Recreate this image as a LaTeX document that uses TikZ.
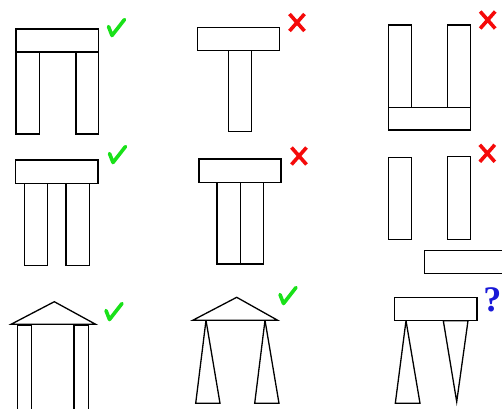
\documentclass[tikz,border=0pt]{standalone}
\usepackage{fontspec}
\setmainfont{Liberation Serif}
\usepackage{tikz}
\usetikzlibrary{calc}

\definecolor{okgreen}{RGB}{25,225,25}
\definecolor{nored}{RGB}{245,10,10}
\definecolor{askblue}{RGB}{25,25,215}

\begin{document}
\begin{tikzpicture}[
    x=1pt, y=-1pt,
    block/.style={draw, line width=1.3pt, fill=white},
    roof/.style={draw, line width=1.3pt, fill=white, line join=miter},
    okmark/.pic={\draw[okgreen, line width=3.6pt, line cap=round, line join=round]
        (-8,-1) -- (-4.5,8) -- (8,-8);},
    nomark/.pic={\draw[nored, line width=3.6pt]
        (-7.5,-8.5) -- (7.5,8.5) (7.5,-8.5) -- (-7.5,8.5);}
]
\useasboundingbox (0,0) rectangle (502,408);

% ========== fila 1 ==========
% arco
\draw[block] (16,52) rectangle (39.3,134);
\draw[block] (76,52) rectangle (98.7,134);
\draw[block] (16,29) rectangle (98.7,52);
\pic at (116.5,27.5) {okmark};

% T
\draw[block] (228.7,50.3) rectangle (251.7,131.7);
\draw[block] (197.3,27.3) rectangle (279.7,50.3);
\pic at (297,22.5) {nomark};

% U
\draw[block] (388.7,25) rectangle (411.3,107.3);
\draw[block] (447.3,25) rectangle (470.3,107.3);
\draw[block] (388.7,107.3) rectangle (470.3,130);
\pic at (487.7,20) {nomark};

% ========== fila 2 ==========
% arco con patas juntas
\draw[block] (24.7,183.3) rectangle (47.7,265.3);
\draw[block] (66,183.3) rectangle (89.3,265.3);
\draw[block] (15.7,160) rectangle (98,183.3);
\pic at (117.5,154.5) {okmark};

% patas pegadas
\draw[block] (217,182.3) rectangle (240.3,264);
\draw[block] (240.3,182.3) rectangle (263.7,264);
\draw[block] (199,159) rectangle (281,182.3);
\pic at (299,156) {nomark};

% piezas sueltas
\draw[block] (388.7,157.3) rectangle (411.7,239.3);
\draw[block] (447.3,156.7) rectangle (470.7,239.3);
\draw[block] (424.3,250.7) rectangle (512,273.7);
\pic at (487.3,153.3) {nomark};

% ========== fila 3 ==========
% techo triangular
\draw[block] (17.3,325) rectangle (31.7,414);
\draw[block] (74,325) rectangle (88.3,414);
\draw[roof] (11,324.3) -- (54.3,301.7) -- (95.7,324.3) -- cycle;
\pic at (114,311.5) {okmark};

% patas triangulares
\draw[roof] (206,320.3) -- (195.7,403.3) -- (220,403.3) -- cycle;
\draw[roof] (265,320.3) -- (254.7,403.3) -- (279,403.3) -- cycle;
\draw[roof] (192.7,320.3) -- (236.7,297.3) -- (277.7,320.3) -- cycle;
\pic at (288,295.5) {okmark};

% pregunta
\draw[roof] (406,320.7) -- (395.3,403.3) -- (420,403.3) -- cycle;
\draw[roof] (443.3,320.7) -- (456.7,401.7) -- (468,320.7) -- cycle;
\draw[block] (394.3,297.3) rectangle (477,320.7);
\node[askblue, font=\fontsize{36}{36}\selectfont\bfseries, inner sep=0pt, anchor=east] (ask) at (501.5,299.5) {?};

\end{tikzpicture}
\end{document}
